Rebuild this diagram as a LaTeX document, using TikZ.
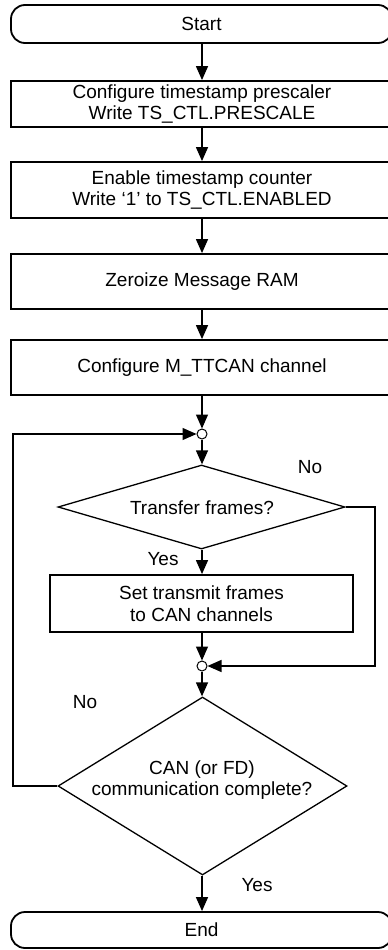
\documentclass[tikz,border=0pt]{standalone}
\usepackage{fontspec}
\setmainfont{Liberation Sans}
\usetikzlibrary{shapes.geometric,arrows.meta}
\begin{document}
\begin{tikzpicture}[x=1pt,y=-1pt,
  font=\fontsize{19}{21.5}\selectfont,
  box/.style={draw,line width=1.8pt,minimum width=382pt,align=center,inner sep=0pt},
  term/.style={draw,line width=1.8pt,rounded corners=14pt,minimum width=381pt,inner sep=0pt},
  dec/.style={draw,diamond,line width=1.3pt,inner sep=0pt},
  junc/.style={draw,circle,line width=1pt,fill=white,minimum size=10pt,inner sep=0pt},
  conn/.style={line width=1.3pt,-{Triangle[length=14pt,width=12pt]}},
  lbl/.style={inner sep=0pt}]
\useasboundingbox (0,0) rectangle (388,950);
% nodes
\node[term,minimum height=38pt] (start) at (201.5,24) {Start};
\node[box,minimum height=46pt] (b1) at (202,104) {Configure timestamp prescaler\\Write TS\_CTL.PRESCALE};
\node[box,minimum height=56pt] (b2) at (202,190) {Enable timestamp counter\\Write ‘1’ to TS\_CTL.ENABLED};
\node[box,minimum height=55pt] (b3) at (202,281.5) {Zeroize Message RAM};
\node[box,minimum height=55pt] (b4) at (202,367.5) {Configure M\_TTCAN channel};
\node[junc] (c1) at (202,434) {};
\node[dec,minimum width=287pt,minimum height=84pt] (d1) at (201.5,507) {};
\node[lbl] (d1t) at (202,508) {Transfer frames?};
\node[box,minimum width=303pt,minimum height=57pt] (b5) at (201.5,603.5) {Set transmit frames\\to CAN channels};
\node[junc] (c2) at (202,666) {};
\node[dec,minimum width=289pt,minimum height=178pt] (d2) at (202.5,786) {};
\node[lbl,align=center] (d2t) at (202,780) {CAN (or FD)\\communication complete?};
\node[term,minimum height=36pt] (end) at (201.5,930) {End};
% labels
\node[lbl] (no1) at (310,467) {No};
\node[lbl] (yes1) at (163,559) {Yes};
\node[lbl] (no2) at (85,702) {No};
\node[lbl] (yes2) at (257,885) {Yes};
% helper coordinates
\coordinate (L) at (13,0);
\coordinate (R) at (375,0);
% connectors
\draw[conn] (start.south -| b1.north) -- (b1.north);
\draw[conn] (b1.south) -- (b2.north);
\draw[conn] (b2.south) -- (b3.north);
\draw[conn] (b3.south) -- (b4.north);
\draw[conn] (b4.south) -- (c1.north);
\draw[conn] (c1.south) -- (c1.south |- d1.north);
\draw[conn] (d1.south -| c1) -- (b5.north -| c1);
\draw[conn] (b5.south -| c1) -- (c2.north);
\draw[conn] (c2.south) -- (c2.south |- d2.north);
\draw[conn] (d2.south -| c1) -- (end.north -| c1);
\draw[conn] (d1.east) -- (d1.east -| R) |- (c2.east);
\draw[conn] (d2.west) -- (d2.west -| L) |- (c1.west);
\end{tikzpicture}
\end{document}
